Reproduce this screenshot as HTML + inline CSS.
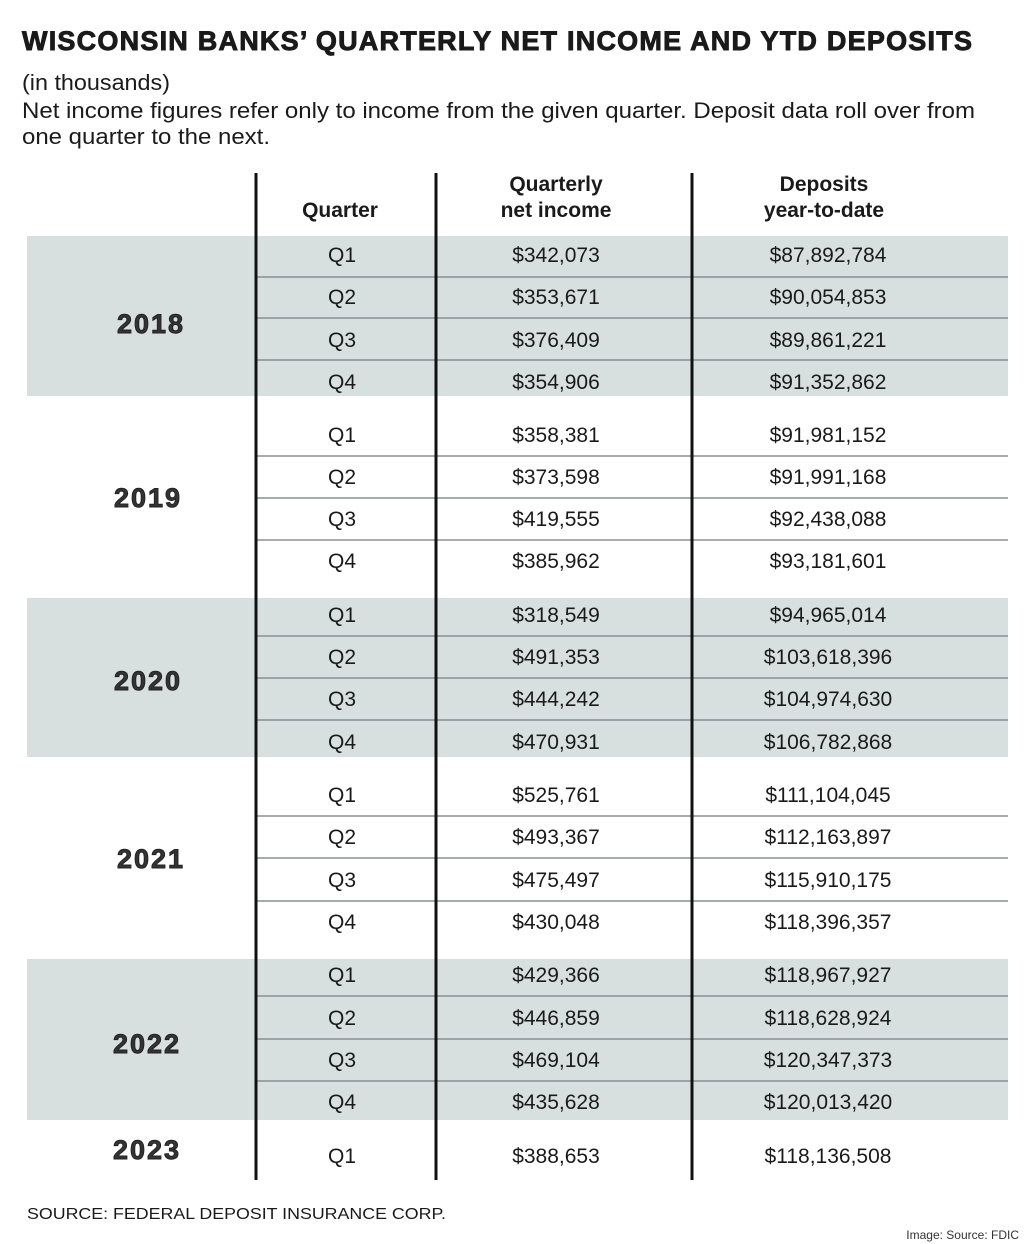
<!DOCTYPE html>
<html><head><meta charset="utf-8"><style>
html,body{margin:0;padding:0;background:#fff;}
svg{display:block;font-family:"Liberation Sans",sans-serif;}
</style></head><body>
<svg width="1024" height="1244" viewBox="0 0 1024 1244">
<text x="22" y="50" font-size="27" font-weight="bold" fill="#1a1a1a" textLength="950" lengthAdjust="spacing" stroke="#1a1a1a" stroke-width="0.9">WISCONSIN BANKS’ QUARTERLY NET INCOME AND YTD DEPOSITS</text>
<text x="22" y="90" font-size="22" fill="#1a1a1a" textLength="148" lengthAdjust="spacingAndGlyphs">(in thousands)</text>
<text x="22" y="118" font-size="22" fill="#1a1a1a" textLength="953" lengthAdjust="spacingAndGlyphs">Net income figures refer only to income from the given quarter. Deposit data roll over from</text>
<text x="22" y="144" font-size="22" fill="#1a1a1a" textLength="248" lengthAdjust="spacingAndGlyphs">one quarter to the next.</text>

<rect x="27" y="236" width="981" height="160" fill="#d7dfdf"/>
<rect x="27" y="598" width="981" height="159" fill="#d7dfdf"/>
<rect x="27" y="959" width="981" height="161" fill="#d7dfdf"/>

<g stroke="#8a8f90" stroke-width="1.5">
<line x1="256" y1="277" x2="1008" y2="277"/><line x1="256" y1="318" x2="1008" y2="318"/><line x1="256" y1="360" x2="1008" y2="360"/>
<line x1="256" y1="456" x2="1008" y2="456"/><line x1="256" y1="498" x2="1008" y2="498"/><line x1="256" y1="540" x2="1008" y2="540"/>
<line x1="256" y1="636" x2="1008" y2="636"/><line x1="256" y1="678" x2="1008" y2="678"/><line x1="256" y1="720" x2="1008" y2="720"/>
<line x1="256" y1="816" x2="1008" y2="816"/><line x1="256" y1="858" x2="1008" y2="858"/><line x1="256" y1="901" x2="1008" y2="901"/>
<line x1="256" y1="996" x2="1008" y2="996"/><line x1="256" y1="1039" x2="1008" y2="1039"/><line x1="256" y1="1081" x2="1008" y2="1081"/>
</g>
<g stroke="#111" stroke-width="3">
<line x1="256" y1="173" x2="256" y2="1180"/>
<line x1="436" y1="173" x2="436" y2="1180"/>
<line x1="692" y1="173" x2="692" y2="1180"/>
</g>

<g font-size="21" font-weight="bold" fill="#1a1a1a" text-anchor="middle">
<text x="340" y="217">Quarter</text>
<text x="556" y="191">Quarterly</text>
<text x="556" y="217">net income</text>
<text x="824" y="191">Deposits</text>
<text x="824" y="217">year-to-date</text>
</g>

<g font-size="27" font-weight="bold" fill="#333" text-anchor="middle" stroke="#222" stroke-width="0.9" letter-spacing="2">
<text x="151" y="333">2018</text>
<text x="148" y="507">2019</text>
<text x="148" y="690">2020</text>
<text x="151" y="868">2021</text>
<text x="147" y="1053">2022</text>
<text x="147" y="1159">2023</text>
</g>

<g font-size="21" fill="#1a1a1a" text-anchor="middle">
<text x="342" y="262">Q1</text><text x="556" y="262">$342,073</text><text x="828" y="262">$87,892,784</text>
<text x="342" y="304">Q2</text><text x="556" y="304">$353,671</text><text x="828" y="304">$90,054,853</text>
<text x="342" y="347">Q3</text><text x="556" y="347">$376,409</text><text x="828" y="347">$89,861,221</text>
<text x="342" y="389">Q4</text><text x="556" y="389">$354,906</text><text x="828" y="389">$91,352,862</text>

<text x="342" y="442">Q1</text><text x="556" y="442">$358,381</text><text x="828" y="442">$91,981,152</text>
<text x="342" y="484">Q2</text><text x="556" y="484">$373,598</text><text x="828" y="484">$91,991,168</text>
<text x="342" y="526">Q3</text><text x="556" y="526">$419,555</text><text x="828" y="526">$92,438,088</text>
<text x="342" y="568">Q4</text><text x="556" y="568">$385,962</text><text x="828" y="568">$93,181,601</text>

<text x="342" y="622">Q1</text><text x="556" y="622">$318,549</text><text x="828" y="622">$94,965,014</text>
<text x="342" y="664">Q2</text><text x="556" y="664">$491,353</text><text x="828" y="664">$103,618,396</text>
<text x="342" y="706">Q3</text><text x="556" y="706">$444,242</text><text x="828" y="706">$104,974,630</text>
<text x="342" y="749">Q4</text><text x="556" y="749">$470,931</text><text x="828" y="749">$106,782,868</text>

<text x="342" y="802">Q1</text><text x="556" y="802">$525,761</text><text x="828" y="802">$111,104,045</text>
<text x="342" y="844">Q2</text><text x="556" y="844">$493,367</text><text x="828" y="844">$112,163,897</text>
<text x="342" y="887">Q3</text><text x="556" y="887">$475,497</text><text x="828" y="887">$115,910,175</text>
<text x="342" y="929">Q4</text><text x="556" y="929">$430,048</text><text x="828" y="929">$118,396,357</text>

<text x="342" y="982">Q1</text><text x="556" y="982">$429,366</text><text x="828" y="982">$118,967,927</text>
<text x="342" y="1025">Q2</text><text x="556" y="1025">$446,859</text><text x="828" y="1025">$118,628,924</text>
<text x="342" y="1067">Q3</text><text x="556" y="1067">$469,104</text><text x="828" y="1067">$120,347,373</text>
<text x="342" y="1109">Q4</text><text x="556" y="1109">$435,628</text><text x="828" y="1109">$120,013,420</text>

<text x="342" y="1163">Q1</text><text x="556" y="1163">$388,653</text><text x="828" y="1163">$118,136,508</text>
</g>

<text x="27" y="1219" font-size="16" fill="#1a1a1a" textLength="419" lengthAdjust="spacingAndGlyphs">SOURCE: FEDERAL DEPOSIT INSURANCE CORP.</text>
<text x="1019" y="1239" font-size="12" fill="#333" text-anchor="end">Image: Source: FDIC</text>
</svg>
</body></html>
